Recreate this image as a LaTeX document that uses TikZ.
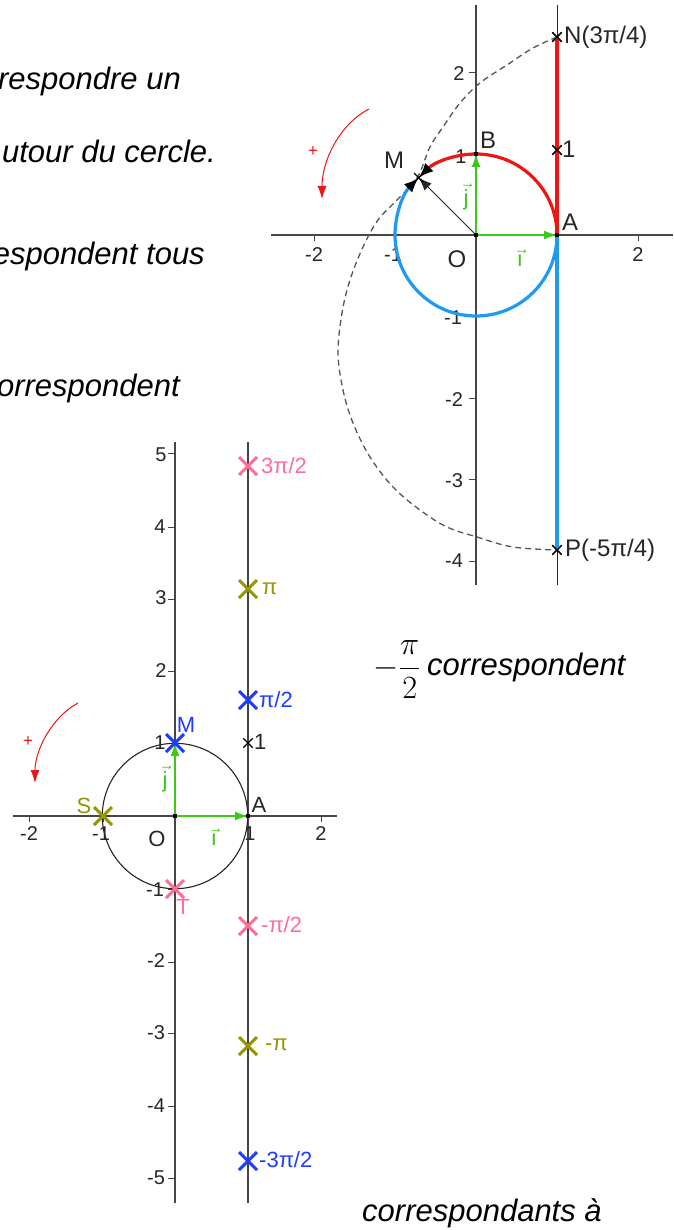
\documentclass[tikz,border=0pt]{standalone}
\usepackage{graphicx}
\usepackage{fontspec}
\setmainfont{Liberation Sans}
\usetikzlibrary{arrows.meta,shapes.misc}
\definecolor{axisgray}{RGB}{70,70,70}
\definecolor{vgreen}{RGB}{60,200,20}
\definecolor{arcred}{RGB}{240,20,20}
\definecolor{arcblue}{RGB}{30,155,240}
\definecolor{mpink}{RGB}{255,110,150}
\definecolor{molive}{RGB}{150,150,0}
\definecolor{mblue}{RGB}{30,60,255}
\definecolor{dashcol}{RGB}{85,85,85}
\begin{document}
\begin{tikzpicture}[x=1pt,y=-1pt,
  axisline/.style={line width=1.5pt,draw=axisgray},
  thinline/.style={line width=1pt,draw=black!85},
  ticklbl/.style={font=\fontsize{20}{20}\selectfont,text=black!85,inner sep=0pt},
  lbl/.style={font=\fontsize{22}{22}\selectfont,text=black!85,inner sep=0pt},
  biglbl/.style={font=\fontsize{24}{24}\selectfont,text=black!85,inner sep=0pt},
  prose/.style={font=\fontsize{31}{31}\selectfont\itshape,inner sep=0pt},
  vecarrow/.style={draw=vgreen,line width=1.5pt,-{Latex[length=13pt,width=9pt]}},
  ptdot/.style={fill=black,inner sep=0pt,minimum size=4pt,rectangle},
  smallx/.style={cross out,draw=black,line width=1.3pt,minimum size=8pt,inner sep=0pt},
  bigx/.style={cross out,line width=3pt,minimum size=15pt,inner sep=0pt},
  plusarrow/.style={draw=arcred,line width=1pt,-{Latex[length=13pt,width=9pt]}},
  blacktip/.style={-{Latex[length=15pt,width=12pt,color=black]}}
]
\useasboundingbox[fill=white] (0,0) rectangle (673,1230);

% ---------------- prose text ----------------
\node[prose,anchor=base east] (t1) at (181,90) {respondre un};
\node[prose,anchor=base east] (t2) at (216,163) {utour du cercle.};
\node[prose,anchor=base east] (t3) at (205,265) {espondent tous};
\node[prose,anchor=base east] (t4) at (180,396) {orrespondent};
\node[font=\fontsize{24.88}{25}\selectfont,inner sep=0pt,anchor=base east] (t5m) at (421,676) {\scalebox{1.3}{$-{\displaystyle\frac{\pi}{2}}$}};
\node[prose,anchor=base west] (t5) at (427,675) {correspondent};
\node[prose,anchor=base west] (t6) at (362,1221) {correspondants à};

% ================= TOP FIGURE =================
\coordinate (O1) at (476,235);
\coordinate (A1) at (557,235);
\coordinate (B1) at (476,154);
\coordinate (M1) at (418.7,177.7);
\coordinate (xl1) at (271,235);
\coordinate (xr1) at (673,235);
\coordinate (yt1) at (476,5);
\coordinate (yb1) at (476,585);
\coordinate (lt1) at (557,5);
\coordinate (lb1) at (557,585);

\draw[axisline] (xl1) -- (xr1);
\draw[axisline] (yt1) -- (yb1);
\foreach \xx in {314,395,557,638} \draw[axisline,line width=1pt] (\xx,235) -- (\xx,241);
\foreach \yy in {73,154,316,398,479,561} \draw[axisline,line width=1pt] (476,\yy) -- (469,\yy);

\node[ticklbl] (tx1) at (314,255) {-2};
\node[ticklbl] (tx2) at (393,255) {-1};
\node[ticklbl] (tx3) at (638,255) {2};
\node[ticklbl] (ty1) at (459,74) {2};
\node[ticklbl] (ty2) at (461,157) {1};
\node[ticklbl] (ty3) at (453,318) {-1};
\node[ticklbl] (ty4) at (454,400) {-2};
\node[ticklbl] (ty5) at (454,481) {-3};
\node[ticklbl] (ty6) at (454,561) {-4};

\draw[thinline] (lt1) -- (lb1);

\node[smallx] (N1) at (557,37) {};
\node[smallx] (one1) at (557,150) {};
\node[smallx] (P1) at (557,550) {};

% dashed locus
\draw[dashcol,line width=1.3pt,dash pattern=on 6pt off 4pt]
  plot[smooth,tension=0.6] coordinates {(557,37) (533,48) (507,65) (480,83) (460,103) (443,127) (430,147) (417,178) (397,200) (378,220) (363,247) (350,280) (342,313) (338,353) (343,390) (353,423) (370,457) (393,487) (420,510) (447,527) (477,537) (513,547) (557,550)};

% coloured unrolled line
\draw[arcred,line width=3.2pt] (A1) -- (N1.center);
\draw[arcblue,line width=3.2pt] (A1) -- (P1.center);
% arcs
\draw[arcred,line width=3.2pt,blacktip] (A1) arc[start angle=0,end angle=135,radius=81pt];
\draw[arcblue,line width=3.2pt,blacktip] (A1) arc[start angle=0,end angle=-225,radius=81pt];
% redraw crosses on top
\node[smallx] (N1b) at (557,37) {};
\node[smallx] (one1b) at (557,150) {};
\node[smallx] (P1b) at (557,550) {};

% OM
\draw[line width=1pt,black!85,-{Latex[length=13pt,width=10pt]}] (O1) -- (M1);
\node[smallx] (M1x) at (M1) {};

% vectors
\draw[vecarrow] (O1) -- (A1);
\draw[vecarrow] (O1) -- (B1);
\node[ptdot] (O1d) at (O1) {};
\node[ptdot] (A1d) at (A1) {};
\node[ptdot] (B1d) at (B1) {};

% labels
\node[biglbl,anchor=west] (Nl) at (564,37) {N(3π/4)};
\node[biglbl,anchor=west] (onel) at (562,149) {1};
\node[biglbl,anchor=west] (Pl) at (565,550) {P(-5π/4)};
\node[biglbl] (Al) at (570,222) {A};
\node[biglbl] (Bl) at (488,140) {B};
\node[biglbl] (Ml) at (394,160) {M};
\node[biglbl] (Ol) at (457,259) {O};
\node[lbl,text=vgreen] (il) at (520,258) {$\vec{\mbox{\i}}$};
\node[lbl,text=vgreen] (jl) at (466,197) {$\vec{\mbox{j}}$};

% + orientation arrow
\coordinate (ps1) at (369,109);
\coordinate (pe1) at (322,199);
\draw[plusarrow] (ps1) .. controls (340,124) and (322,160) .. (pe1);
\node[font=\fontsize{17}{17}\selectfont,text=arcred,inner sep=0pt] (plus1) at (313,152) {+};

% ================= BOTTOM FIGURE =================
\coordinate (O2) at (175,816);
\coordinate (A2) at (248,816);
\coordinate (B2) at (175,743);
\coordinate (xl2) at (13,816);
\coordinate (xr2) at (337,816);
\coordinate (yt2) at (175,442);
\coordinate (yb2) at (175,1203);
\coordinate (lt2) at (248,442);
\coordinate (lb2) at (248,1203);

\draw[axisline] (xl2) -- (xr2);
\draw[axisline] (yt2) -- (yb2);
\draw[axisline,line width=1.2pt] (lt2) -- (lb2);
\foreach \xx in {29,103,248,321} \draw[axisline,line width=1pt] (\xx,816) -- (\xx,822);
\foreach \yy in {453,527,599,671,743,889,962,1033,1106,1178} \draw[axisline,line width=1pt] (175,\yy) -- (168,\yy);

\node[ticklbl] (bx1) at (29,834) {-2};
\node[ticklbl] (bx2) at (101,834) {-1};
\node[ticklbl] (bx3) at (250,834) {1};
\node[ticklbl] (bx4) at (321,834) {2};
\node[ticklbl] (by1) at (161,455) {5};
\node[ticklbl] (by2) at (160,527) {4};
\node[ticklbl] (by3) at (161,598) {3};
\node[ticklbl] (by4) at (161,671) {2};
\node[ticklbl] (by5) at (160,743) {1};
\node[ticklbl] (by6) at (155,890) {-1};
\node[ticklbl] (by7) at (156,961) {-2};
\node[ticklbl] (by8) at (156,1033) {-3};
\node[ticklbl] (by9) at (156,1106) {-4};
\node[ticklbl] (by10) at (156,1178) {-5};

\draw[line width=1.1pt,black!85] (O2) circle[radius=72.7pt];

\draw[vecarrow] (O2) -- (A2);
\draw[vecarrow] (O2) -- (B2);
\node[ptdot] (O2d) at (O2) {};
\node[ptdot] (A2d) at (A2) {};

% crosses
\node[bigx,draw=mblue] (M2) at (175,743) {};
\node[bigx,draw=molive] (S2) at (103,816) {};
\node[bigx,draw=mpink] (T2) at (175,889) {};
\node[bigx,draw=mpink] (q1) at (248,466) {};
\node[bigx,draw=molive] (q2) at (248,589) {};
\node[bigx,draw=mblue] (q3) at (248,700) {};
\node[smallx] (q4) at (248,743) {};
\node[bigx,draw=mpink] (q5) at (248,926) {};
\node[bigx,draw=molive] (q6) at (248,1046) {};
\node[bigx,draw=mblue] (q7) at (248,1161) {};

% labels
\node[lbl,text=mblue] (M2l) at (186,725) {M};
\node[lbl,text=molive] (S2l) at (84,806) {S};
\node[lbl,text=mpink] (T2l) at (183,907) {T};
\node[lbl] (A2l) at (259,805) {A};
\node[lbl] (O2l) at (157,839) {O};
\node[lbl,text=vgreen] (i2l) at (214,837) {$\vec{\mbox{\i}}$};
\node[lbl,text=vgreen] (j2l) at (165,779) {$\vec{\mbox{j}}$};
\node[lbl,anchor=west,text=mpink] (q1l) at (261,466) {3π/2};
\node[lbl,anchor=west,text=molive] (q2l) at (262,589) {π};
\node[lbl,anchor=west,text=mblue] (q3l) at (259,700) {π/2};
\node[lbl,anchor=west] (q4l) at (254,742) {1};
\node[lbl,anchor=west,text=mpink] (q5l) at (261,925) {-π/2};
\node[lbl,anchor=west,text=molive] (q6l) at (265,1045) {-π};
\node[lbl,anchor=west,text=mblue] (q7l) at (259,1160) {-3π/2};

\coordinate (ps2) at (78,703);
\coordinate (pe2) at (35,783);
\draw[plusarrow] (ps2) .. controls (52,717) and (35,750) .. (pe2);
\node[font=\fontsize{17}{17}\selectfont,text=arcred,inner sep=0pt] (plus2) at (28,742) {+};
\end{tikzpicture}
\end{document}
